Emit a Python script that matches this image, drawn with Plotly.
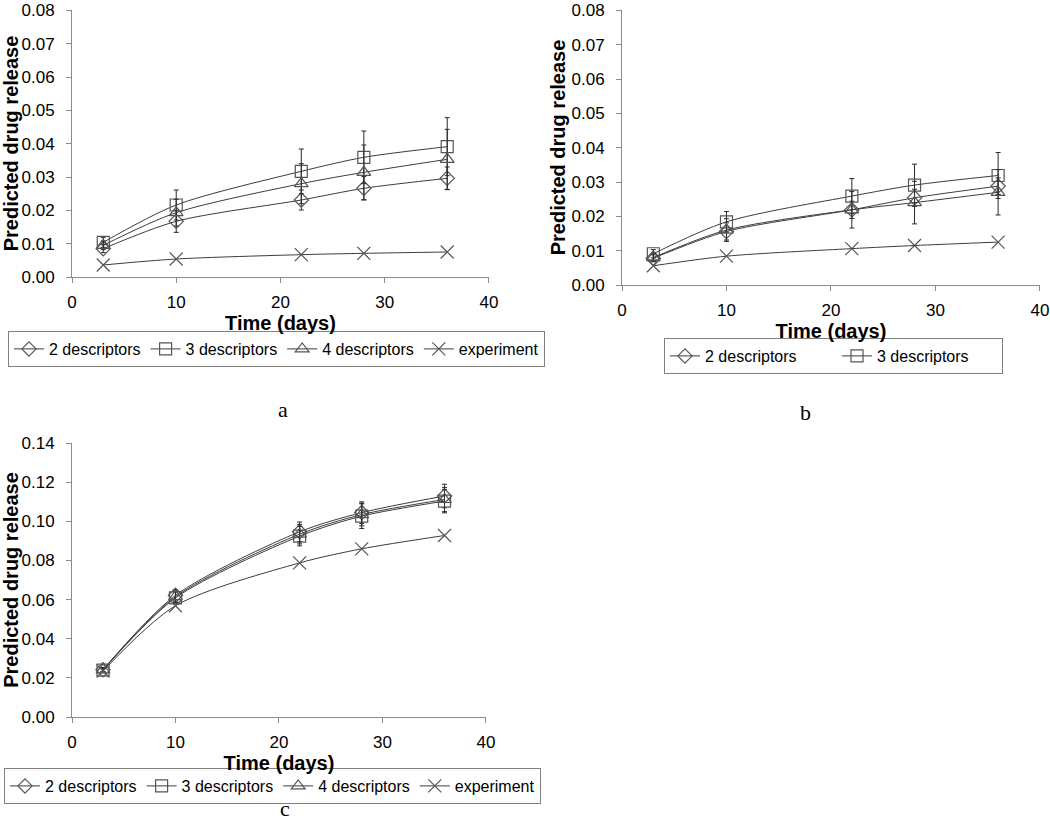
import plotly.graph_objects as go

# ---------------- data ----------------
days = [3, 10, 22, 28, 36]

# panel a
a_2desc = [0.0085, 0.0167, 0.0231, 0.0266, 0.0296]
a_3desc = [0.0104, 0.0216, 0.0317, 0.0359, 0.0391]
a_4desc = [0.0095, 0.0193, 0.0280, 0.0314, 0.0353]
a_exp = [0.0036, 0.0054, 0.0067, 0.0071, 0.0075]
a_2err = [0.0012, 0.0033, 0.0030, 0.0035, 0.0034]
a_3err = [0.0015, 0.0045, 0.0067, 0.0079, 0.0087]
a_4err = [0.0013, 0.0040, 0.0060, 0.0082, 0.0090]

# panel b
b_2desc = [0.0078, 0.0156, 0.0219, 0.0254, 0.0288]
b_3desc = [0.0091, 0.0184, 0.0259, 0.0291, 0.0319]
b_4desc = [0.0080, 0.0160, 0.0219, 0.0240, 0.0270]
b_exp = [0.0056, 0.0084, 0.0106, 0.0115, 0.0125]
b_2err = [0.0010, 0.0025, 0.0025, 0.0025, 0.0024]
b_3err = [0.0012, 0.0030, 0.0051, 0.0061, 0.0067]
b_4err = [0.0012, 0.0033, 0.0053, 0.0062, 0.0066]

# panel c
c_2desc = [0.0242, 0.0622, 0.0947, 0.1045, 0.1130]
c_3desc = [0.0240, 0.0609, 0.0925, 0.1027, 0.1104]
c_4desc = [0.0241, 0.0615, 0.0935, 0.1035, 0.1112]
c_exp = [0.0235, 0.0569, 0.0788, 0.0860, 0.0928]
c_2err = [0.0010, 0.0030, 0.0050, 0.0055, 0.0060]
c_3err = [0.0010, 0.0030, 0.0050, 0.0063, 0.0060]
c_4err = [0.0010, 0.0030, 0.0050, 0.0058, 0.0062]

series_names = ["2 descriptors", "3 descriptors", "4 descriptors", "experiment"]
y_ticks_ab = [0.00, 0.01, 0.02, 0.03, 0.04, 0.05, 0.06, 0.07, 0.08]
y_ticks_c = [0.00, 0.02, 0.04, 0.06, 0.08, 0.10, 0.12, 0.14]
x_ticks = [0, 10, 20, 30, 40]

# ---------------- style ----------------
FONT = "Arial, Liberation Sans, sans-serif"
LINE = "#3c3c3c"
MARK = "#555555"
AXIS = "#8c8c8c"
symbols = ["diamond-open", "square-open", "triangle-up-open", "x-thin-open"]
sizes = [11, 12, 12, 13]

W, H = 1050, 822
fig = go.Figure()


def add_panel(xa, ya, legend, vals, errs, legend_flags, lw=None):
    for i, name in enumerate(series_names):
        err = errs[i]
        kw = {}
        if lw:
            kw["legendwidth"] = lw[i]
        fig.add_trace(go.Scatter(
            x=days, y=vals[i], name=name, mode="lines+markers",
            xaxis=xa, yaxis=ya, legend=legend,
            showlegend=legend_flags[i],
            line=dict(color=LINE, width=1, shape="spline", smoothing=0.8),
            marker=dict(symbol=symbols[i], size=sizes[i], color=MARK,
                        line=dict(color=MARK, width=1.2)),
            error_y=dict(type="data", array=err, visible=err is not None,
                         color="#2a2a2a", thickness=1, width=2.5),
            **kw
        ))


add_panel("x", "y", "legend", [a_2desc, a_3desc, a_4desc, a_exp],
          [a_2err, a_3err, a_4err, None], [True, True, True, True])
add_panel("x2", "y2", "legend2", [b_2desc, b_3desc, b_4desc, b_exp],
          [b_2err, b_3err, b_4err, None], [True, True, False, False],
          lw=[127, 120, 100, 100])
add_panel("x3", "y3", "legend3", [c_2desc, c_3desc, c_4desc, c_exp],
          [c_2err, c_3err, c_4err, None], [True, True, True, True])


def xax(dom, anchor):
    return dict(domain=dom, anchor=anchor, range=[0, 40.01], tickvals=x_ticks,
                showline=True, linecolor=AXIS, linewidth=1, ticks="outside",
                ticklen=5, tickcolor=AXIS, showgrid=False, zeroline=False,
                ticklabelstandoff=5, automargin=False, ticklabeloverflow="allow",
                tickfont=dict(family=FONT, size=17, color="black"),
                title=dict(text="<b>Time (days)</b>", standoff=0,
                           font=dict(family=FONT, size=20, color="black")))


def yax(dom, anchor, rng, tv):
    return dict(domain=dom, anchor=anchor, range=rng, tickvals=tv,
                tickformat=".2f", showline=True, linecolor=AXIS, linewidth=1,
                ticks="outside", ticklen=5, tickcolor=AXIS, showgrid=False,
                zeroline=False, ticklabelstandoff=8, automargin=False,
                ticklabeloverflow="allow",
                tickfont=dict(family=FONT, size=17, color="black"),
                title=dict(text="<b>Predicted drug release</b>", standoff=0,
                           font=dict(family=FONT, size=20, color="black")))


def leg(xp, ytop, xanchor="left"):
    return dict(orientation="h", x=xp / W, xanchor=xanchor, y=1 - ytop / H,
                yanchor="top", xref="paper", yref="paper",
                bordercolor="#808080", borderwidth=1, bgcolor="rgba(0,0,0,0)",
                font=dict(family=FONT, size=16, color="black"),
                itemsizing="trace", tracegroupgap=0)


fig.update_layout(
    width=W, height=H, autosize=False,
    margin=dict(l=0, r=0, t=0, b=0, autoexpand=False),
    paper_bgcolor="white", plot_bgcolor="white",
    xaxis=xax([72 / W, 489 / W], "y"),
    yaxis=yax([1 - 277 / H, 1 - 10 / H], "x", [0, 0.0801], y_ticks_ab),
    xaxis2=xax([622 / W, 1040 / W], "y2"),
    yaxis2=yax([1 - 285 / H, 1 - 10 / H], "x2", [0, 0.0801], y_ticks_ab),
    xaxis3=xax([72 / W, 486 / W], "y3"),
    yaxis3=yax([1 - 717 / H, 1 - 443 / H], "x3", [0, 0.1401], y_ticks_c),
    legend=leg(8, 331),
    legend2=leg(664, 338),
    legend3=leg(4, 768),
    showlegend=True,
)

for txt, xp, yp in [("a", 283, 410), ("b", 805, 412), ("c", 285, 808)]:
    fig.add_annotation(text=txt, x=xp / W, y=1 - yp / H, xref="paper",
                       yref="paper", xanchor="center", yanchor="middle",
                       showarrow=False,
                       font=dict(family="Liberation Serif, Times New Roman, serif",
                                 size=22, color="black"))

fig.write_html(
    "out.html",
    config={"displayModeBar": False},
    post_script="document.body.style.margin='0';document.body.style.overflow='hidden';",
)
